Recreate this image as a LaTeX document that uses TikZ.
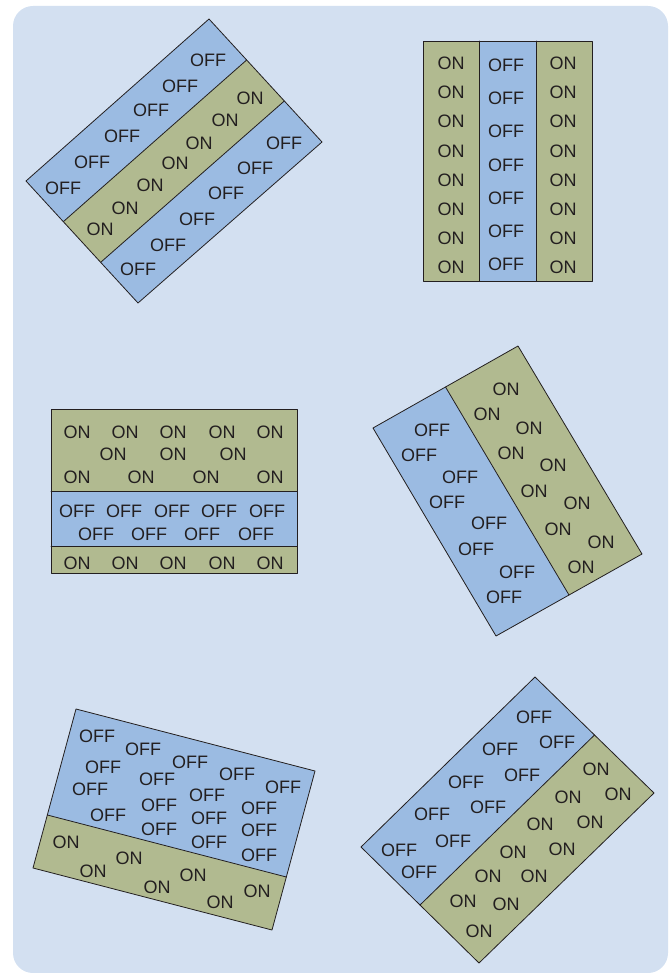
\documentclass[tikz,border=0pt]{standalone}
\usepackage{fontspec}
\setmainfont{Liberation Sans}
\usetikzlibrary{calc}
\definecolor{bgblue}{HTML}{D3E0F1}
\definecolor{offblue}{HTML}{9BBBE2}
\definecolor{onolive}{HTML}{B1BA90}
\definecolor{ink}{HTML}{231F20}

\begin{document}
\begin{tikzpicture}[x=0.75pt, y=-0.75pt, color=ink, line width=0.6pt, line join=round, line cap=round,
	lbl/.style={inner sep=0pt, font=\fontsize{13.5}{14}\selectfont}]
	\useasboundingbox (0,0) rectangle (668,973);
	\fill[bgblue, rounded corners=15pt] (13,6) rectangle (668,973);
	% top left: three diagonal strips
	\coordinate (a1) at (26,181);
	\coordinate (a2) at (209,19);
	\coordinate (a3) at (322,142);
	\coordinate (a4) at (138,303);
	\coordinate (a5) at ($(a2)!1/3!(a3)$);
	\coordinate (a6) at ($(a2)!2/3!(a3)$);
	\coordinate (a7) at ($(a1)!1/3!(a4)$);
	\coordinate (a8) at ($(a1)!2/3!(a4)$);
	\fill[offblue] (a1) -- (a2) -- (a3) -- (a4) -- cycle;
	\fill[onolive] (a7) -- (a5) -- (a6) -- (a8) -- cycle;
	\draw (a1) -- (a2) -- (a3) -- (a4) -- cycle;
	\draw (a5) -- (a7);
	\draw (a6) -- (a8);
	\foreach \x/\y [count=\i] in {208/60,180/86,151/110,122/136,92/162,63/188,284/143,255/168,226/193,197/219,168/245,138/269}
		\node[lbl] (aoff\i) at (\x,\y) {OFF};
	\foreach \x/\y [count=\i] in {250/98,225/120,199/143,175/163,150/185,125/208,100/229}
		\node[lbl] (aon\i) at (\x,\y) {ON};
	% top right: upright columns
	\coordinate (b1) at (423,41);
	\coordinate (b2) at (592,281);
	\fill[onolive] (b1) rectangle (b2);
	\fill[offblue] (479,41) rectangle (536,281);
	\draw (b1) rectangle (b2);
	\draw (479,41) -- (479,281);
	\draw (536,41) -- (536,281);
	\foreach \k in {0,...,7}{
		\node[lbl] (bonl\k) at (451,63.3+29.2*\k) {ON};
		\node[lbl] (bonr\k) at (563,63.3+29.2*\k) {ON};
	}
	\foreach \k in {0,...,6}
		\node[lbl] (boff\k) at (506,65+33.3*\k) {OFF};
	% middle left: rows
	\coordinate (c1) at (51,409);
	\coordinate (c2) at (297,573);
	\fill[onolive] (c1) rectangle (c2);
	\fill[offblue] (51,491) rectangle (297,546);
	\draw (c1) rectangle (c2);
	\draw (51,491) -- (297,491);
	\draw (51,546) -- (297,546);
	\foreach \x/\y [count=\i] in {77/432,125/432,173/432,222/432,270/432,113/454,173/454,233/454,77/477,141/477,206/477,270/477,77/563,125/563,173/563,222/563,270/563}
		\node[lbl] (con\i) at (\x,\y) {ON};
	\foreach \x/\y [count=\i] in {77/511,124/511,172/511,219/511,267/511,96/534,149/534,202/534,256/534}
		\node[lbl] (coff\i) at (\x,\y) {OFF};
	% middle right: two tilted strips
	\coordinate (d1) at (373,428);
	\coordinate (d2) at (518,346);
	\coordinate (d3) at (642,554);
	\coordinate (d4) at (496,636);
	\coordinate (d5) at ($(d1)!1/2!(d2)$);
	\coordinate (d6) at ($(d4)!1/2!(d3)$);
	\fill[onolive] (d1) -- (d2) -- (d3) -- (d4) -- cycle;
	\fill[offblue] (d1) -- (d5) -- (d6) -- (d4) -- cycle;
	\draw (d1) -- (d2) -- (d3) -- (d4) -- cycle;
	\draw (d5) -- (d6);
	\foreach \x/\y [count=\i] in {506/389,487/414,529/428,511/453,553/465,534/491,577/503,558/529,601/542,581/567}
		\node[lbl] (don\i) at (\x,\y) {ON};
	\foreach \x/\y [count=\i] in {432/430,419/455,460/477,447/502,489/523,476/549,517/572,504/597}
		\node[lbl] (doff\i) at (\x,\y) {OFF};
	% bottom left: slightly tilted
	\coordinate (e1) at (76,709);
	\coordinate (e2) at (315,771);
	\coordinate (e3) at (272,930);
	\coordinate (e4) at (33,868);
	\coordinate (e5) at ($(e1)!2/3!(e4)$);
	\coordinate (e6) at ($(e2)!2/3!(e3)$);
	\fill[onolive] (e1) -- (e2) -- (e3) -- (e4) -- cycle;
	\fill[offblue] (e1) -- (e2) -- (e6) -- (e5) -- cycle;
	\draw (e1) -- (e2) -- (e3) -- (e4) -- cycle;
	\draw (e5) -- (e6);
	\foreach \x/\y [count=\i] in {97/736,143/749,103/767,190/762,157/779,237/774,90/789,207/795,283/787,159/805,259/808,108/815,209/818,159/829,259/830,209/842,259/855}
		\node[lbl] (eoff\i) at (\x,\y) {OFF};
	\foreach \x/\y [count=\i] in {66/842,93/871,129/858,157/887,193/875,220/902,257/891}
		\node[lbl] (eon\i) at (\x,\y) {ON};
	% bottom right: two diagonal strips
	\coordinate (f1) at (535,677);
	\coordinate (f2) at (654,793);
	\coordinate (f3) at (479,963);
	\coordinate (f4) at (361,847);
	\coordinate (f5) at ($(f1)!1/2!(f2)$);
	\coordinate (f6) at ($(f4)!1/2!(f3)$);
	\fill[onolive] (f1) -- (f2) -- (f3) -- (f4) -- cycle;
	\fill[offblue] (f1) -- (f5) -- (f6) -- (f4) -- cycle;
	\draw (f1) -- (f2) -- (f3) -- (f4) -- cycle;
	\draw (f5) -- (f6);
	\foreach \x/\y [count=\i] in {534/717,500/749,557/742,466/782,522/775,432/814,488/807,399/850,453/841,419/872}
		\node[lbl] (foff\i) at (\x,\y) {OFF};
	\foreach \x/\y [count=\i] in {596/769,568/797,618/794,540/824,590/822,513/852,562/849,488/876,534/876,463/901,506/904,479/931}
		\node[lbl] (fon\i) at (\x,\y) {ON};
\end{tikzpicture}
\end{document}
